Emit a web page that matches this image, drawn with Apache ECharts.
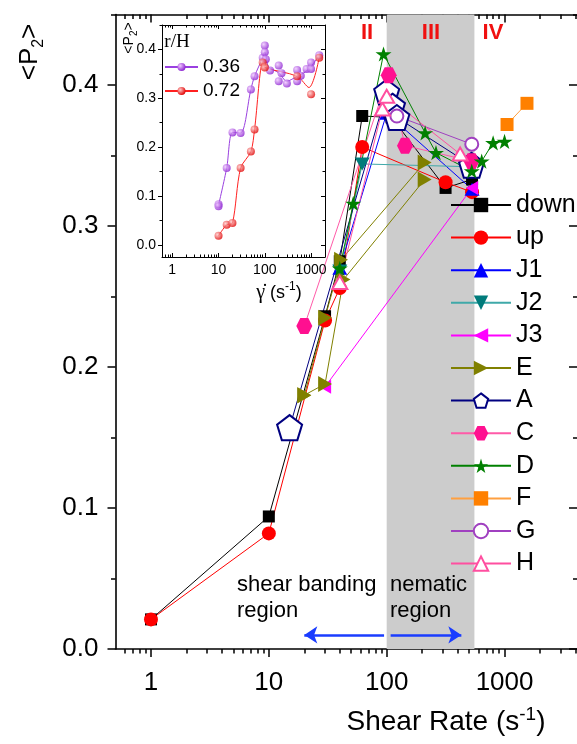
<!DOCTYPE html>
<html>
<head>
<meta charset="utf-8">
<script src="https://cdn.jsdelivr.net/npm/echarts@6/dist/echarts.min.js"></script>
<style>
  html, body { margin: 0; padding: 0; background: #fff; }
  #chart { width: 577px; height: 744px; }
</style>
</head>
<body>
<div id="chart"></div>
<script>
// tick values
const X_MAJOR = [1, 10, 100, 1000]
const X_MINOR = [0.6, 0.7, 0.8, 0.9, 2, 3, 4, 5, 6, 7, 8, 9, 20, 30, 40, 50, 60, 70, 80, 90,
  200, 300, 400, 500, 600, 700, 800, 900, 2000, 3000, 4000]
const Y_MAJOR = [0, 0.1, 0.2, 0.3, 0.4]
const Y_MINOR = [0.05, 0.15, 0.25, 0.35, 0.45]
const INSET_X_MINOR = [0.7, 0.8, 0.9, 2, 3, 4, 5, 6, 7, 8, 9, 20, 30, 40, 50, 60, 70, 80, 90,
  200, 300, 400, 500, 600, 700, 800, 900, 2000]

// main series: [shear rate, <P2>]
const DOWN = [[1, 0.021], [10, 0.094], [30, 0.236], [40, 0.275], [62, 0.378], [110, 0.377], [316, 0.327], [530, 0.333]]
const UP = [[1, 0.021], [10, 0.082], [30, 0.233], [40, 0.256], [62, 0.356], [316, 0.331], [530, 0.324]]
const J1 = [[40, 0.27], [100, 0.38], [530, 0.326]]
const J2 = [[40, 0.268], [62, 0.344], [530, 0.342]]
const J3 = [[30, 0.186], [530, 0.327]]
const E_A = [[20, 0.18], [30, 0.235], [41, 0.276], [210, 0.345]]
const E_B = [[20, 0.18], [30, 0.188], [43, 0.262], [210, 0.333]]
const A = [[15, 0.157], [100, 0.395], [112, 0.385], [122, 0.377], [525, 0.343]]
const C = [[20, 0.229], [104, 0.407], [143, 0.357], [525, 0.346]]
const D = [[40, 0.27], [52, 0.316], [94, 0.422], [212, 0.366], [262, 0.352], [527, 0.339], [640, 0.346], [800, 0.359], [1000, 0.36]]
const F = [[1050, 0.372], [1550, 0.387]]
const G = [[122, 0.378], [527, 0.358]]
const H = [[40, 0.26], [92, 0.383], [100, 0.392], [420, 0.351]]

// inset, r/H = 0.36 and 0.72
const P036 = [[10, 0.083], [10, 0.079], [15, 0.157], [20, 0.23], [30, 0.229], [50, 0.318], [60, 0.345], [90, 0.383],
  [100, 0.408], [100, 0.394], [105, 0.38], [130, 0.357], [200, 0.367], [200, 0.335], [230, 0.351], [300, 0.33],
  [500, 0.358], [500, 0.335], [600, 0.346], [800, 0.36], [1000, 0.373], [1000, 0.36], [1500, 0.388]]
const P036_CURVE = [[10, 0.081], [15, 0.157], [20, 0.23], [30, 0.229], [50, 0.318], [60, 0.345], [90, 0.383], [100, 0.395],
  [120, 0.365], [200, 0.352], [300, 0.335], [500, 0.345], [700, 0.352], [1000, 0.365], [1500, 0.388]]
const P072 = [[10, 0.0185], [15, 0.041], [20, 0.0445], [30, 0.157], [50, 0.191], [60, 0.236], [90, 0.373], [100, 0.363],
  [500, 0.345], [1000, 0.308], [1500, 0.383]]
const P072_CURVE = [[10, 0.0185], [15, 0.041], [20, 0.0445], [30, 0.157], [50, 0.191], [60, 0.236], [90, 0.373], [100, 0.363],
  [500, 0.345], [900, 0.322], [1500, 0.383]]

const SHADE_MAIN = [100, 555]
const SHADE_INSET = [100, 500]
const ARROWS = [[95, 20], [108, 430]]
const ARROW_Y = 0.01

const FONT = 'Liberation Sans'
const PENTAGON = 'path://M50,0 L100,38 L81,100 L19,100 L0,38 Z'
const HEXAGON = 'path://M25,0 L75,0 L100,50 L75,100 L25,100 L0,50 Z'
const STAR = 'path://M50,0 L61,35 L98,35 L68,57 L79,91 L50,70 L21,91 L32,57 L2,35 L39,35 Z'
const TRI_DOWN = 'path://M0,0 L100,0 L50,87 Z'
const TRI_LEFT = 'path://M0,50 L87,0 L87,100 Z'
const TRI_RIGHT = 'path://M0,0 L87,50 L0,100 Z'
const TRI_UP = 'path://M50,0 L100,87 L0,87 Z'

const myChart = echarts.init(document.getElementById('chart'), null, { renderer: 'canvas' })

// 一条带点的折线
function line(name, data, symbol, size, color, lineColor, open) {
  return {
    name, type: 'line', data, xAxisIndex: 0, yAxisIndex: 0,
    symbol, symbolSize: size, symbolKeepAspect: true,
    lineStyle: { color: lineColor || color, width: 1 },
    itemStyle: open ? { color: '#fff', borderColor: color, borderWidth: 2 } : { color, borderWidth: 0 },
    emphasis: { disabled: true }
  }
}

function ball(c0, c1) {
  return { type: 'radial', x: 0.35, y: 0.35, r: 0.7, colorStops: [{ offset: 0, color: c0 }, { offset: 1, color: c1 }] }
}

// 轴: kind 'x' | 'y'
function axis(kind, o) {
  const a = {
    type: kind === 'x' ? 'log' : 'value',
    gridIndex: o.grid, position: o.pos, min: o.min, max: o.max,
    z: o.z || 0,
    axisLine: { show: !!o.line, onZero: false, lineStyle: { color: '#000', width: o.lw || 1.6 } },
    axisTick: { show: true, inside: !!o.inside, length: o.len, customValues: o.ticks, lineStyle: { color: '#000', width: o.lw || 1.5 } },
    axisLabel: o.labels ? {
      show: true, customValues: o.labels, color: '#000', fontFamily: FONT, fontSize: o.fs, margin: o.margin,
      formatter: kind === 'y' ? v => Number(v).toFixed(1) : v => String(v)
    } : { show: false },
    splitLine: { show: false }, minorTick: { show: false }
  }
  if (kind === 'x') a.logBase = 10
  return a
}

const XMIN = 0.5
const XMAX = 4200

const xAxis = [
  axis('x', { grid: 0, pos: 'bottom', min: XMIN, max: XMAX, line: true, len: 8, ticks: X_MAJOR, labels: X_MAJOR, fs: 26, margin: 21 }),
  axis('x', { grid: 0, pos: 'bottom', min: XMIN, max: XMAX, len: 4.5, ticks: X_MINOR }),
  axis('x', { grid: 0, pos: 'top', min: XMIN, max: XMAX, line: true, inside: true, len: 8, ticks: X_MAJOR }),
  axis('x', { grid: 0, pos: 'top', min: XMIN, max: XMAX, inside: true, len: 4.5, ticks: X_MINOR }),
  axis('x', { grid: 1, pos: 'bottom', min: 0.6, max: 2000, line: true, inside: true, len: 4, ticks: X_MAJOR, labels: X_MAJOR, fs: 14, margin: 6, lw: 1, z: 4 }),
  axis('x', { grid: 1, pos: 'bottom', min: 0.6, max: 2000, inside: true, len: 2.5, ticks: INSET_X_MINOR, lw: 1, z: 4 }),
  axis('x', { grid: 1, pos: 'top', min: 0.6, max: 2000, line: true, inside: true, len: 4, ticks: X_MAJOR, lw: 1, z: 4 }),
  axis('x', { grid: 1, pos: 'top', min: 0.6, max: 2000, inside: true, len: 2.5, ticks: INSET_X_MINOR, lw: 1, z: 4 })
]
const yAxis = [
  axis('y', { grid: 0, pos: 'left', min: 0, max: 0.45, line: true, len: 8, ticks: Y_MAJOR, labels: Y_MAJOR, fs: 26, margin: 17 }),
  axis('y', { grid: 0, pos: 'left', min: 0, max: 0.45, len: 4.5, ticks: Y_MINOR }),
  axis('y', { grid: 0, pos: 'right', min: 0, max: 0.45, line: true, inside: true, len: 9, ticks: Y_MAJOR }),
  axis('y', { grid: 0, pos: 'right', min: 0, max: 0.45, inside: true, len: 5, ticks: Y_MINOR }),
  axis('y', { grid: 1, pos: 'left', min: -0.025, max: 0.45, line: true, len: 4, ticks: Y_MAJOR, labels: Y_MAJOR, fs: 14, margin: 6, lw: 1, z: 4 }),
  axis('y', { grid: 1, pos: 'left', min: -0.025, max: 0.45, len: 2.5, ticks: Y_MINOR, lw: 1, z: 4 }),
  axis('y', { grid: 1, pos: 'right', min: -0.025, max: 0.45, line: true, inside: true, len: 4, ticks: Y_MAJOR, lw: 1, z: 4 }),
  axis('y', { grid: 1, pos: 'right', min: -0.025, max: 0.45, inside: true, len: 2.5, ticks: Y_MINOR, lw: 1, z: 4 })
]

const down = line('down', DOWN, 'rect', 12, '#000000')
down.markArea = {
  silent: true, itemStyle: { color: '#cccccc' },
  data: [[{ xAxis: SHADE_MAIN[0] }, { xAxis: SHADE_MAIN[1] }]]
}
down.markLine = {
  silent: true, symbol: ['none', 'arrow'], symbolSize: 13,
  lineStyle: { color: '#1a3cff', width: 2.5, type: 'solid' }, label: { show: false },
  data: ARROWS.map(([a, b]) => [{ coord: [a, ARROW_Y] }, { coord: [b, ARROW_Y] }])
}

const mainSeries = [
  down,
  line('up', UP, 'circle', 14, '#ff0000'),
  line('J1', J1, TRI_UP, 15, '#0000ff'),
  line('J2', J2, TRI_DOWN, 15, '#007b7b', '#3fa9a9'),
  line('J3', J3, TRI_LEFT, 14, '#ff00ff'),
  line('E', E_A, TRI_RIGHT, 16, '#808000'),
  line('E', E_B, TRI_RIGHT, 16, '#808000'),
  line('A', A, PENTAGON, 25, '#000080', null, true),
  line('C', C, HEXAGON, 16, '#ff1090', '#ff5aa8'),
  line('D', D, STAR, 16, '#008000'),
  line('F', F, 'rect', 13, '#ff8000', '#ffa040'),
  line('G', G, 'circle', 13, '#a040c0', null, true),
  line('H', H, TRI_UP, 15, '#ff4fa0', null, true)
]

function insetCurve(name, data, c0, c1, lc) {
  return {
    name, type: 'line', data, xAxisIndex: 4, yAxisIndex: 4, z: 5, smooth: 0.3,
    symbol: 'circle', symbolSize: 8, showSymbol: false,
    lineStyle: { color: lc, width: 1 }, itemStyle: { color: ball(c0, c1) }, emphasis: { disabled: true }
  }
}
function insetPoints(name, data, c0, c1) {
  return {
    name, type: 'scatter', data, xAxisIndex: 4, yAxisIndex: 4, z: 6,
    symbol: 'circle', symbolSize: 8, itemStyle: { color: ball(c0, c1) }, emphasis: { disabled: true }
  }
}
const c036 = insetCurve('0.36', P036_CURVE, '#f0c8ff', '#8a1fd0', '#9a40e0')
c036.markArea = {
  silent: true, itemStyle: { color: '#c8c8c8' },
  data: [[{ xAxis: SHADE_INSET[0] }, { xAxis: SHADE_INSET[1] }]]
}
const insetSeries = [
  c036,
  insetCurve('0.72', P072_CURVE, '#ffc8c8', '#e00000', '#ff2020'),
  insetPoints('0.36', P036, '#f0c8ff', '#8a1fd0'),
  insetPoints('0.72', P072, '#ffc8c8', '#e00000')
]

const textBase = { fill: '#000', fontFamily: FONT }
function txt(x, y, text, style, extra) {
  return Object.assign({
    type: 'text', x, y, z: 50,
    style: Object.assign({ text, align: 'center', verticalAlign: 'middle', textAlign: 'center', textVerticalAlign: 'middle' }, textBase, style)
  }, extra || {})
}

const option = {
  animation: false,
  backgroundColor: '#fff',
  grid: [
    { left: 115.5, top: 14.5, width: 462.5, height: 634.5, containLabel: false, outerBoundsMode: 'none' },
    { left: 162, top: 25, width: 163, height: 232, show: true, backgroundColor: '#fff', borderWidth: 0, z: 3, containLabel: false, outerBoundsMode: 'none' }
  ],
  xAxis, yAxis,
  legend: [
    {
      data: ['down', 'up', 'J1', 'J2', 'J3', 'E', 'A', 'C', 'D', 'F', 'G', 'H'],
      orient: 'vertical', left: 450, top: 192, padding: 0,
      itemWidth: 60, itemHeight: 18, itemGap: 6.6, selectedMode: false,
      textStyle: { color: '#000', fontFamily: FONT, fontSize: 25, lineHeight: 26 }
    },
    {
      data: ['0.36', '0.72'],
      orient: 'vertical', left: 164, top: 55, padding: 0, z: 8,
      itemWidth: 33, itemHeight: 10, itemGap: 0, selectedMode: false,
      textStyle: { color: '#000', fontFamily: FONT, fontSize: 19, lineHeight: 24 }
    }
  ],
  graphic: [
    txt(367, 33, 'II', { fill: '#f01010', fontSize: 22, fontWeight: 'bold' }),
    txt(431, 33, 'III', { fill: '#f01010', fontSize: 22, fontWeight: 'bold' }),
    txt(493, 33, 'IV', { fill: '#f01010', fontSize: 22, fontWeight: 'bold' }),
    txt(237, 598, 'shear banding\nregion', { fontSize: 22, lineHeight: 26, align: 'left', textAlign: 'left' }),
    txt(390, 598, 'nematic\nregion', { fontSize: 22, lineHeight: 26, align: 'left', textAlign: 'left' }),
    txt(446, 722, 'Shear Rate (s{sup|-1})', {
      fontSize: 28, lineHeight: 34,
      rich: { sup: { fontSize: 19, lineHeight: 19, verticalAlign: 'top', fontFamily: FONT } }
    }),
    txt(30, 52, '<P{sub|2}>', {
      fontSize: 26, lineHeight: 34,
      rich: { sub: { fontSize: 16, lineHeight: 16, verticalAlign: 'bottom', fontFamily: FONT } }
    }, { rotation: Math.PI / 2 }),
    txt(129, 38, '<P{sub|2}>', {
      fontSize: 14, lineHeight: 20,
      rich: { sub: { fontSize: 10, lineHeight: 10, verticalAlign: 'bottom', fontFamily: FONT } }
    }, { rotation: Math.PI / 2 }),
    txt(177, 42, 'r/H', { fontSize: 19, fontFamily: 'Liberation Serif' }),
    txt(279, 293, '{g|γ̇} (s{sup|-1})', {
      fontSize: 18, lineHeight: 24,
      rich: {
        g: { fontSize: 20, fontFamily: 'Liberation Serif', lineHeight: 24 },
        sup: { fontSize: 12, lineHeight: 12, verticalAlign: 'top', fontFamily: FONT }
      }
    })
  ],
  series: mainSeries.concat(insetSeries)
}

myChart.setOption(option)
</script>
</body>
</html>
